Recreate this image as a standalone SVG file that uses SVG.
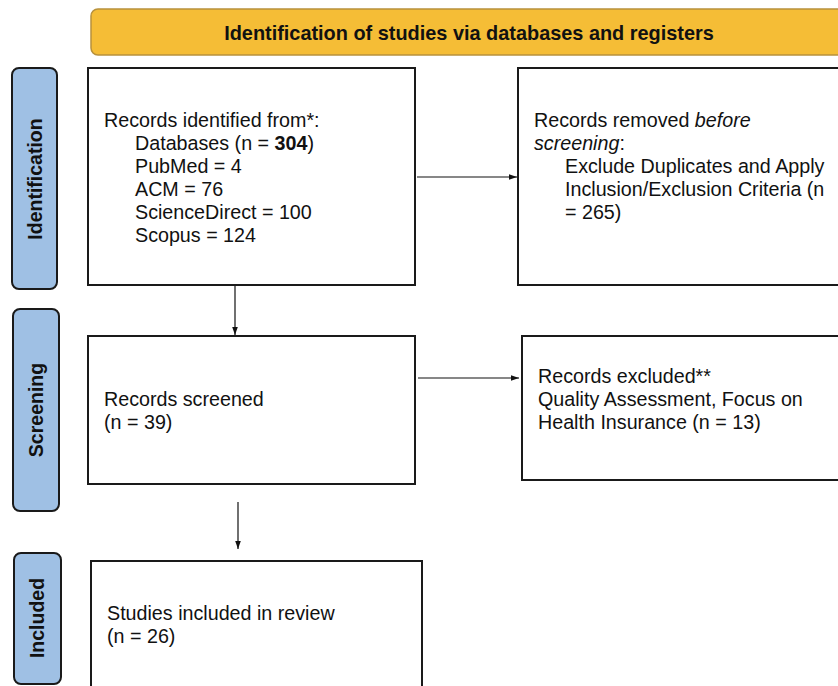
<svg xmlns="http://www.w3.org/2000/svg" width="838" height="686" viewBox="0 0 838 686">
<style>
.bg{fill:#ffffff}
.box{fill:#ffffff;stroke:#1a1a1a;stroke-width:2}
.phase{fill:#9fc0e4;stroke:#1a1a1a;stroke-width:2}
.banner{fill:#f5bd36;stroke:#b8913c;stroke-width:1.5}
.t{font-family:"Liberation Sans",Arial,sans-serif;font-size:19.7px;fill:#111111}
.pt{font-family:"Liberation Sans",Arial,sans-serif;font-size:19.5px;font-weight:bold;fill:#111111}
.bt{font-family:"Liberation Sans",Arial,sans-serif;font-size:19.9px;font-weight:bold;fill:#111111}
.conn{stroke:#111111;stroke-width:1.2;fill:none;marker-end:url(#ah)}
</style>
<defs>
<marker id="ah" viewBox="0 0 10 10" refX="10" refY="5" markerWidth="8" markerHeight="8" markerUnits="userSpaceOnUse" orient="auto">
<path d="M0,1.5 L10,5 L0,8.5 z" fill="#111111"/>
</marker>
</defs>
<rect class="bg" x="0" y="0" width="838" height="686"/>

<g id="banner">
<rect class="banner" x="91" y="9" width="760" height="46" rx="7" ry="7"/>
<text class="bt" x="469" y="40" text-anchor="middle">Identification of studies via databases and registers</text>
</g>

<g id="phase-identification">
<rect class="phase" x="12" y="68" width="45" height="221" rx="7" ry="7"/>
<text class="pt" transform="translate(41.5,179) rotate(-90)" text-anchor="middle">Identification</text>
</g>
<g id="phase-screening">
<rect class="phase" x="13" y="309" width="46" height="202" rx="7" ry="7"/>
<text class="pt" transform="translate(42.5,410) rotate(-90)" text-anchor="middle">Screening</text>
</g>
<g id="phase-included">
<rect class="phase" x="14" y="553" width="47" height="131" rx="7" ry="7"/>
<text class="pt" transform="translate(44,618) rotate(-90)" text-anchor="middle">Included</text>
</g>

<g id="records-identified">
<rect class="box" x="88" y="68" width="327" height="217"/>
<text class="t" x="104" y="127">Records identified from*:</text>
<text class="t" x="135" y="150">Databases (n = <tspan font-weight="bold">304</tspan>)</text>
<text class="t" x="135" y="173">PubMed = 4</text>
<text class="t" x="135" y="196">ACM = 76</text>
<text class="t" x="135" y="219">ScienceDirect = 100</text>
<text class="t" x="135" y="242">Scopus = 124</text>
</g>

<g id="records-removed">
<rect class="box" x="518" y="68" width="330" height="217"/>
<text class="t" x="534" y="127">Records removed <tspan font-style="italic">before</tspan></text>
<text class="t" x="534" y="150"><tspan font-style="italic">screening</tspan>:</text>
<text class="t" x="565" y="173">Exclude Duplicates and Apply</text>
<text class="t" x="565" y="196">Inclusion/Exclusion Criteria (n</text>
<text class="t" x="565" y="219">= 265)</text>
</g>

<g id="records-screened">
<rect class="box" x="88" y="336" width="327" height="148"/>
<text class="t" x="104" y="406">Records screened</text>
<text class="t" x="104" y="429">(n = 39)</text>
</g>

<g id="records-excluded">
<rect class="box" x="522" y="336" width="326" height="144"/>
<text class="t" x="538" y="383">Records excluded**</text>
<text class="t" x="538" y="406">Quality Assessment, Focus on</text>
<text class="t" x="538" y="429">Health Insurance (n = 13)</text>
</g>

<g id="studies-included">
<rect class="box" x="91" y="561" width="331" height="135"/>
<text class="t" x="107" y="620">Studies included in review</text>
<text class="t" x="107" y="643">(n = 26)</text>
</g>

<g id="connectors">
<line class="conn" x1="417" y1="177" x2="517" y2="177"/>
<line class="conn" x1="235" y1="286" x2="235" y2="335"/>
<line class="conn" x1="418" y1="378" x2="519" y2="378"/>
<line class="conn" x1="238" y1="502" x2="238" y2="549"/>
</g>
</svg>
